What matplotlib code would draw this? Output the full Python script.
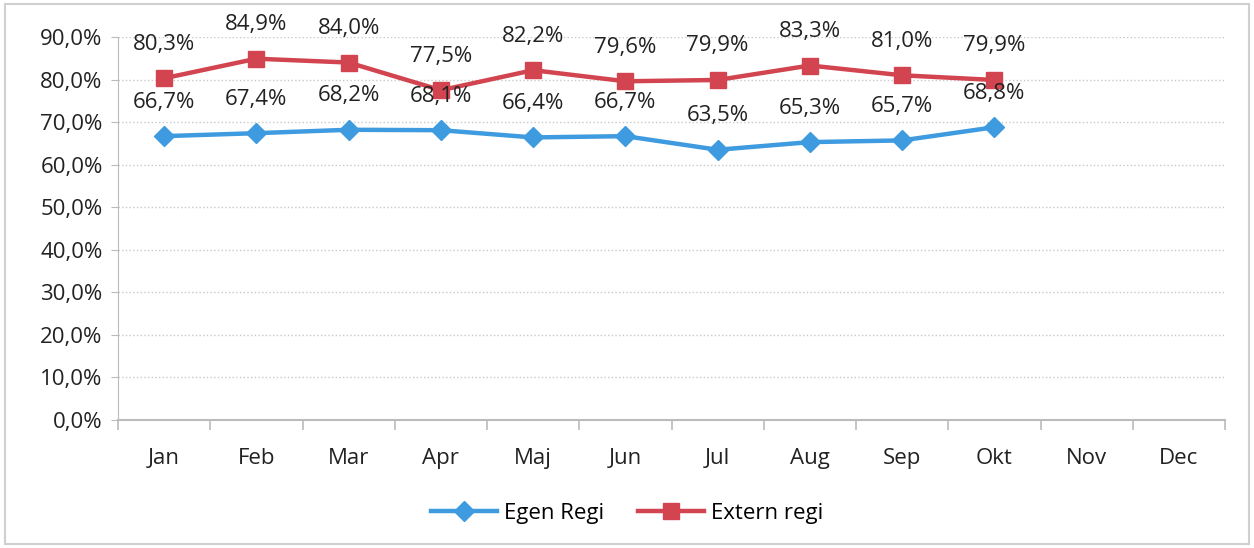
import matplotlib.pyplot as plt
from matplotlib.patches import Rectangle
from matplotlib.ticker import FixedLocator

months = ['Jan', 'Feb', 'Mar', 'Apr', 'Maj', 'Jun', 'Jul', 'Aug', 'Sep', 'Okt', 'Nov', 'Dec']
egen_regi = [66.7, 67.4, 68.2, 68.1, 66.4, 66.7, 63.5, 65.3, 65.7, 68.8]
extern_regi = [80.3, 84.9, 84.0, 77.5, 82.2, 79.6, 79.9, 83.3, 81.0, 79.9]

plt.rcParams['font.family'] = ['Open Sans', 'DejaVu Sans']

fig = plt.figure(figsize=(12.54, 5.48), dpi=100)
ax = fig.add_axes([118 / 1254, 1 - 420 / 548, 1107 / 1254, 383 / 548])

blue = '#3E9BE0'
red = '#D2444F'

x = list(range(len(egen_regi)))
ax.plot(x, egen_regi, color=blue, lw=3.2, marker='D', ms=10, label='Egen Regi', zorder=3)
ax.plot(x, extern_regi, color=red, lw=3.2, marker='s', ms=11, label='Extern regi', zorder=3)

def fmt(v):
    return ('%.1f%%' % v).replace('.', ',')

# data labels above each point
for series in (egen_regi, extern_regi):
    for i, v in enumerate(series):
        ax.annotate(fmt(v), (i, v), xytext=(0, 17), textcoords='offset points',
                    ha='center', va='bottom', fontsize=16, color='#222222', zorder=4)

ax.set_xlim(-0.5, len(months) - 0.5)
ax.set_ylim(0, 90)
ax.set_yticks(range(0, 91, 10))
ax.set_yticklabels([fmt(t) for t in range(0, 91, 10)], fontsize=16, color='#222222')
ax.set_xticks(range(len(months)))
ax.set_xticklabels(months, fontsize=16, color='#222222')
ax.tick_params(axis='x', length=0, pad=20)
ax.tick_params(axis='y', length=5, color='#BBBBBB', pad=6)
ax.xaxis.set_minor_locator(FixedLocator([i - 0.5 for i in range(len(months) + 1)]))
ax.tick_params(axis='x', which='minor', length=7, color='#BBBBBB', width=1.2)

ax.grid(axis='y', color='#C8C8C8', ls=':', lw=1)
ax.set_axisbelow(True)
for s in ['top', 'right']:
    ax.spines[s].set_visible(False)
ax.spines['left'].set_color('#BBBBBB')
ax.spines['bottom'].set_color('#BBBBBB')
ax.spines['bottom'].set_linewidth(1.5)

fig.legend(loc='center', bbox_to_anchor=(0.5, 1 - 513 / 548), ncol=2, frameon=False,
           fontsize=16, handlelength=3, columnspacing=1.5, handletextpad=0.3)

fig.patches.append(Rectangle((0.004, 0.008), 0.992, 0.984, transform=fig.transFigure,
                             fill=False, edgecolor='#D0D0D0', lw=1.5))

fig.savefig('out.png', dpi=100)
